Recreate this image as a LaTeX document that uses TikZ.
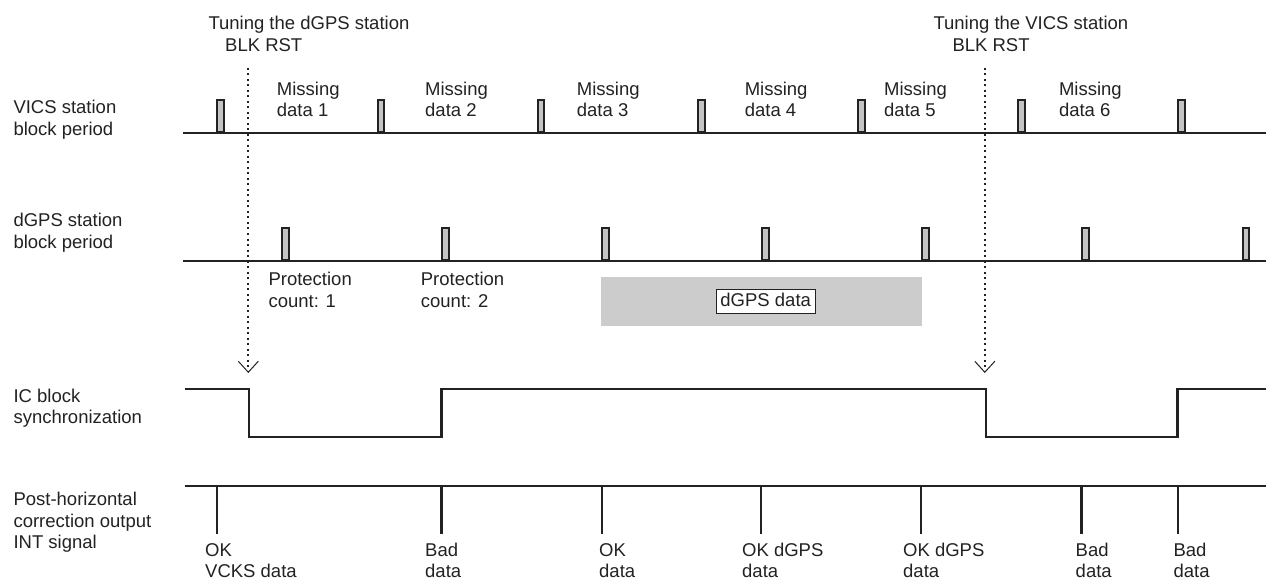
\documentclass[tikz,border=0pt]{standalone}
\usepackage{fontspec}
\setmainfont{Liberation Sans}
\usetikzlibrary{arrows.meta}
\definecolor{ink}{HTML}{222222}
\definecolor{pulsefill}{HTML}{C4C4C4}
\definecolor{databg}{HTML}{CCCCCC}
\begin{document}
\begin{tikzpicture}[x=1pt,y=-1pt,
  lbl/.style={anchor=base west, inner sep=0pt, align=left, font=\fontsize{18.5}{21.5}\selectfont, text=ink},
  sig/.style={draw=ink, line width=2.2pt, line join=miter},
  pulse/.style={draw=ink, fill=pulsefill, line width=2pt, minimum width=6.5pt, minimum height=32pt, inner sep=0pt, anchor=south},
  tuneline/.style={draw=ink, line width=2pt, dash pattern=on 2pt off 3.5pt, -{Straight Barb[length=11pt,width=20pt,line width=1pt]}},
  tick/.style={draw=ink, line width=2.2pt},
  databox/.style={fill=databg, inner sep=0pt, minimum width=321pt, minimum height=49pt, anchor=north west},
  datalabel/.style={draw=ink, fill=white, line width=0.8pt, inner xsep=4.5pt, inner ysep=3pt, text height=13.3pt, text depth=3.9pt, font=\fontsize{18.5}{21.5}\selectfont, text=ink}
]
\useasboundingbox (0,0) rectangle (1266,580);

% ---- left labels (anchored at the baseline of their last line)
\node[lbl] (lv) at (13.3,135.5) {VICS station\\block period};
\node[lbl] (ld) at (13.3,248) {dGPS station\\block period};
\node[lbl] (li) at (13.3,423.5) {IC block\\synchronization};
\node[lbl] (lp) at (13.3,548.5) {Post-horizontal\\correction output\\INT signal};

% ---- top labels
\node[lbl] (t1a) at (208.3,29.3) {Tuning the dGPS station};
\node[lbl] (t1b) at (225,51.7) {BLK RST};
\node[lbl] (t2a) at (933.3,29.3) {Tuning the VICS station};
\node[lbl] (t2b) at (952.3,51.7) {BLK RST};

% ---- VICS row
\coordinate (vs) at (183,133);
\coordinate (ve) at (1266,133);
\draw[sig] (vs) -- (ve);
\foreach \i/\x in {1/220.7,2/380.8,3/541.2,4/701.3,5/861.5,6/1021.4,7/1181.6}
  \node[pulse] (vp\i) at (\x,133) {};
\foreach \i/\x in {1/276.7,2/425,3/576.7,4/744.6,5/884,6/1058.8}
  \node[lbl] (m\i) at (\x,116.7) {Missing\\data \i};

% ---- dGPS row
\coordinate (ds) at (183,260.7);
\coordinate (de) at (1266,260.7);
\draw[sig] (ds) -- (de);
\foreach \i/\x in {1/285.3,2/445.3,3/605.4,4/765.5,5/925.6,6/1085.7,7/1245.8}
  \node[pulse] (dp\i) at (\x,260.7) {};
\node[lbl] (pc1) at (268.3,307) {Protection\\count: 1};
\node[lbl] (pc2) at (420.7,307) {Protection\\count: 2};
\node[databox] (dgbg) at (600.7,276.7) {};
\node[datalabel] (dgl) at (765.7,301.3) {dGPS data};

% ---- IC block synchronization
\coordinate (i0) at (184.7,389.3);
\coordinate (i1) at (249.3,437.3);
\coordinate (i2) at (441.4,389.3);
\coordinate (i3) at (985.8,437.3);
\coordinate (i4) at (1177.4,389.3);
\coordinate (i5) at (1266,389.3);
\draw[sig] (i0) -| (i1) -| (i2) -| (i3) -| (i4) -- (i5);

% ---- INT signal
\coordinate (ps) at (184.7,486);
\coordinate (pe) at (1266,486);
\draw[sig] (ps) -- (pe);
\foreach \i/\x in {1/216.8,2/441.4,3/601.6,4/761.2,5/921.3,6/1081.5,7/1177.6}{
  \coordinate (ta\i) at (\x,486);
  \coordinate (tb\i) at (\x,534);
  \draw[tick] (ta\i) -- (tb\i);
}
\node[lbl] (o1) at (205,577.5) {OK\\VCKS data};
\node[lbl] (o2) at (425,577.5) {Bad\\data};
\node[lbl] (o3) at (599,577.5) {OK\\data};
\node[lbl] (o4) at (742,577.5) {OK dGPS\\data};
\node[lbl] (o5) at (903,577.5) {OK dGPS\\data};
\node[lbl] (o6) at (1075.5,577.5) {Bad\\data};
\node[lbl] (o7) at (1173.4,577.5) {Bad\\data};

% ---- tuning arrows
\coordinate (a1s) at (248.3,68);
\coordinate (a1e) at (248.3,373);
\coordinate (a2s) at (984.8,68);
\coordinate (a2e) at (984.8,373);
\draw[tuneline] (a1s) -- (a1e);
\draw[tuneline] (a2s) -- (a2e);
\end{tikzpicture}
\end{document}
